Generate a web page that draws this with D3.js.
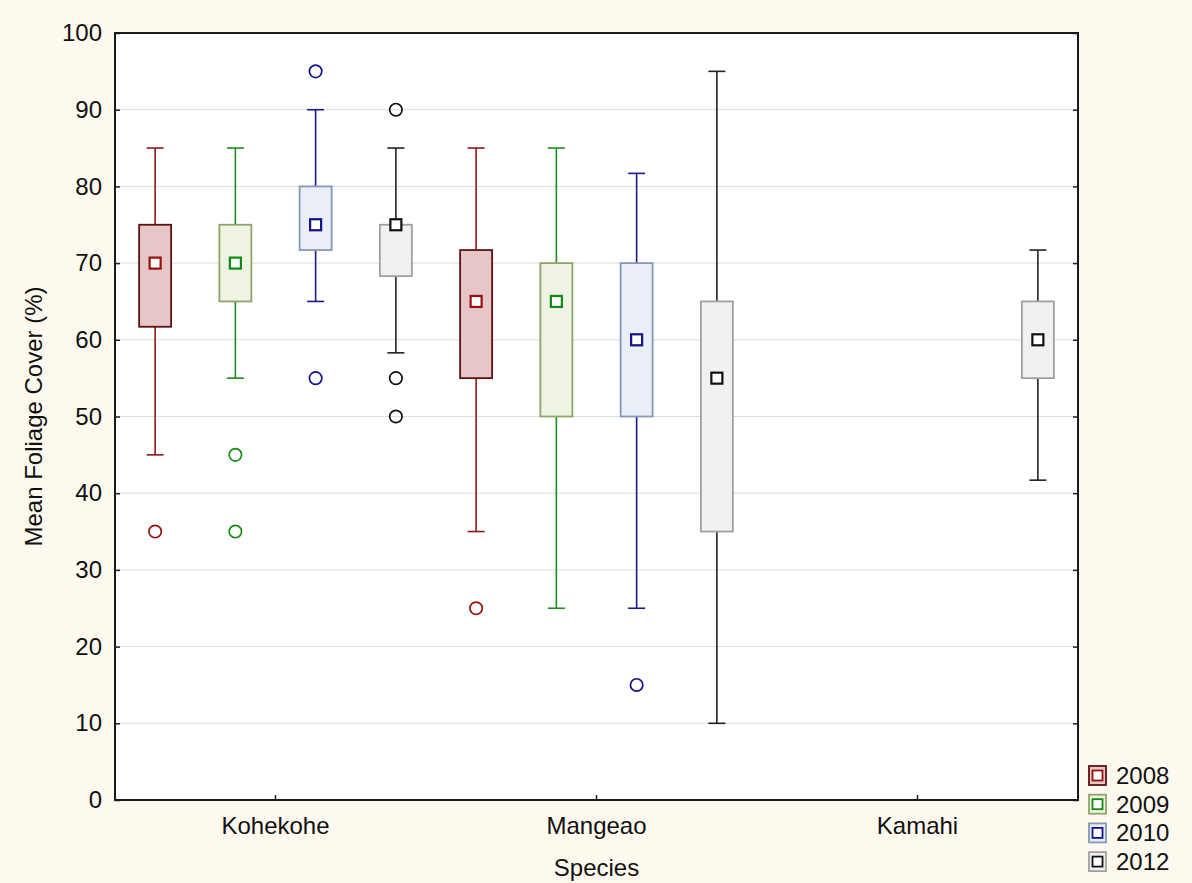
<!DOCTYPE html>
<html>
<head>
<meta charset="utf-8">
<script src="https://cdn.jsdelivr.net/npm/d3@7"></script>
<style>
  body { margin: 0; background: #fdf9ef; }
  svg { display: block; font-family: "Liberation Sans", Arial, sans-serif; }
</style>
</head>
<body>
<div id="chart"></div>
<script>
// data
const species = ["Kohekohe", "Mangeao", "Kamahi"];
const years = ["2008", "2009", "2010", "2012"];
const yTicks = [0, 10, 20, 30, 40, 50, 60, 70, 80, 90, 100];

// one row per box: species, year, whisker low, box low, median, box high, whisker high
const boxSpecies = ["Kohekohe", "Kohekohe", "Kohekohe", "Kohekohe", "Mangeao", "Mangeao", "Mangeao", "Mangeao", "Kamahi"];
const boxYear    = ["2008", "2009", "2010", "2012", "2008", "2009", "2010", "2012", "2012"];
const whiskLow   = [45, 55, 65, 58.3, 35, 25, 25, 10, 41.7];
const boxLow     = [61.7, 65, 71.7, 68.3, 55, 50, 50, 35, 55];
const medians    = [70, 70, 75, 75, 65, 65, 60, 55, 60];
const boxHigh    = [75, 75, 80, 75, 71.7, 70, 70, 65, 65];
const whiskHigh  = [85, 85, 90, 85, 85, 85, 81.7, 95, 71.7];

const outSpecies = ["Kohekohe", "Kohekohe", "Kohekohe", "Kohekohe", "Kohekohe", "Kohekohe", "Kohekohe", "Kohekohe", "Mangeao", "Mangeao"];
const outYear    = ["2008", "2009", "2009", "2010", "2010", "2012", "2012", "2012", "2008", "2010"];
const outValue   = [35, 45, 35, 95, 55, 90, 55, 50, 25, 15];

const styles = {
  "2008": { line: "#8b1a1a", fill: "#e6c6c6", border: "#5c1212", mark: "#9c0f0f" },
  "2009": { line: "#1f8a1f", fill: "#eef3e3", border: "#8fa56c", mark: "#108a10" },
  "2010": { line: "#1a1a8c", fill: "#e9eef7", border: "#8599b6", mark: "#101090" },
  "2012": { line: "#222222", fill: "#f1f1f1", border: "#a0a0a0", mark: "#111111" }
};

const width = 1192, height = 883;
const margin = { left: 115, right: 114, top: 33, bottom: 83 };
const fontSize = "24px";

const svg = d3.select("#chart").append("svg")
  .attr("width", width)
  .attr("height", height);

svg.append("rect").attr("width", width).attr("height", height).attr("fill", "#fdf9ef");

let x = d3.scaleBand()
  .domain(species)
  .range([margin.left, width - margin.right]);
let xInner = d3.scaleBand()
  .domain(years)
  .range([0, x.bandwidth()]);
let y = d3.scaleLinear()
  .domain([0, 100])
  .range([height - margin.bottom, margin.top]);

let plotW = width - margin.left - margin.right;
let plotH = height - margin.top - margin.bottom;

svg.append("rect")
  .attr("x", margin.left).attr("y", margin.top)
  .attr("width", plotW).attr("height", plotH)
  .attr("fill", "#ffffff");

// grid
svg.append("g").selectAll("line")
  .data(yTicks.filter(d => d > 0 && d < 100))
  .enter().append("line")
  .attr("x1", margin.left).attr("x2", width - margin.right)
  .attr("y1", d => y(d)).attr("y2", d => y(d))
  .attr("stroke", "#dcdcdc").attr("stroke-width", 1);

// axes
let yAxis = svg.append("g")
  .attr("transform", `translate(${margin.left},0)`)
  .call(d3.axisLeft(y).tickValues(yTicks).tickSize(-5).tickPadding(13));
let yAxisR = svg.append("g")
  .attr("transform", `translate(${width - margin.right},0)`)
  .call(d3.axisRight(y).tickValues(yTicks).tickSize(-5).tickFormat(""));
let xAxis = svg.append("g")
  .attr("transform", `translate(0,${height - margin.bottom})`)
  .call(d3.axisBottom(x).tickSize(-5).tickPadding(17));

[yAxis, yAxisR, xAxis].forEach(g => {
  g.select(".domain").remove();
  g.selectAll("line").attr("stroke", "#222").attr("stroke-width", 1.5);
  g.selectAll("text").attr("fill", "#111").style("font-size", fontSize);
});

// frame
svg.append("rect")
  .attr("x", margin.left).attr("y", margin.top)
  .attr("width", plotW).attr("height", plotH)
  .attr("fill", "none").attr("stroke", "#1a1a1a").attr("stroke-width", 2);

// boxes
let boxW = 32, capW = 17, markS = 11;
let cx = (s, yr) => x(s) + xInner(yr) + xInner.bandwidth() / 2;

let boxes = boxSpecies.map((s, i) => ({
  s: s, yr: boxYear[i], wl: whiskLow[i], bl: boxLow[i], m: medians[i], bh: boxHigh[i], wh: whiskHigh[i]
}));

let g = svg.append("g").selectAll("g.box")
  .data(boxes)
  .enter().append("g").classed("box", true);

g.append("line")
  .attr("x1", d => cx(d.s, d.yr)).attr("x2", d => cx(d.s, d.yr))
  .attr("y1", d => y(d.wl)).attr("y2", d => y(d.wh))
  .attr("stroke", d => styles[d.yr].line).attr("stroke-width", 1.6);
g.append("line")
  .attr("x1", d => cx(d.s, d.yr) - capW / 2).attr("x2", d => cx(d.s, d.yr) + capW / 2)
  .attr("y1", d => y(d.wl)).attr("y2", d => y(d.wl))
  .attr("stroke", d => styles[d.yr].line).attr("stroke-width", 1.6);
g.append("line")
  .attr("x1", d => cx(d.s, d.yr) - capW / 2).attr("x2", d => cx(d.s, d.yr) + capW / 2)
  .attr("y1", d => y(d.wh)).attr("y2", d => y(d.wh))
  .attr("stroke", d => styles[d.yr].line).attr("stroke-width", 1.6);
g.append("rect")
  .attr("x", d => cx(d.s, d.yr) - boxW / 2)
  .attr("y", d => y(d.bh))
  .attr("width", boxW)
  .attr("height", d => y(d.bl) - y(d.bh))
  .attr("fill", d => styles[d.yr].fill)
  .attr("stroke", d => styles[d.yr].border).attr("stroke-width", 1.8);
g.append("rect")
  .attr("x", d => cx(d.s, d.yr) - markS / 2)
  .attr("y", d => y(d.m) - markS / 2)
  .attr("width", markS).attr("height", markS)
  .attr("fill", "#ffffff")
  .attr("stroke", d => styles[d.yr].mark).attr("stroke-width", 2.2);

// outliers
let outliers = outSpecies.map((s, i) => ({ s: s, yr: outYear[i], v: outValue[i] }));
svg.append("g").selectAll("circle")
  .data(outliers)
  .enter().append("circle")
  .attr("cx", d => cx(d.s, d.yr))
  .attr("cy", d => y(d.v))
  .attr("r", 6.2)
  .attr("fill", "none")
  .attr("stroke", d => styles[d.yr].mark).attr("stroke-width", 1.7);

// axis titles
svg.append("text")
  .attr("x", margin.left + plotW / 2).attr("y", 876)
  .attr("text-anchor", "middle")
  .style("font-size", fontSize).attr("fill", "#111")
  .text("Species");
svg.append("text")
  .attr("transform", `translate(42,${margin.top + plotH / 2}) rotate(-90)`)
  .attr("text-anchor", "middle")
  .style("font-size", fontSize).attr("fill", "#111")
  .text("Mean Foliage Cover (%)");

// legend
let legend = svg.append("g").selectAll("g.leg")
  .data(years)
  .enter().append("g").classed("leg", true)
  .attr("transform", (d, i) => `translate(1089,${766 + i * 28.7})`);
legend.append("rect")
  .attr("width", 17).attr("height", 19)
  .attr("fill", d => styles[d].fill)
  .attr("stroke", d => styles[d].border).attr("stroke-width", 1.8);
legend.append("rect")
  .attr("x", 3.5).attr("y", 4.5).attr("width", 10).attr("height", 10)
  .attr("fill", "#ffffff")
  .attr("stroke", d => styles[d].mark).attr("stroke-width", 1.8);
legend.append("text")
  .attr("x", 27).attr("y", 18)
  .style("font-size", fontSize).attr("fill", "#111")
  .text(d => d);
</script>
</body>
</html>
